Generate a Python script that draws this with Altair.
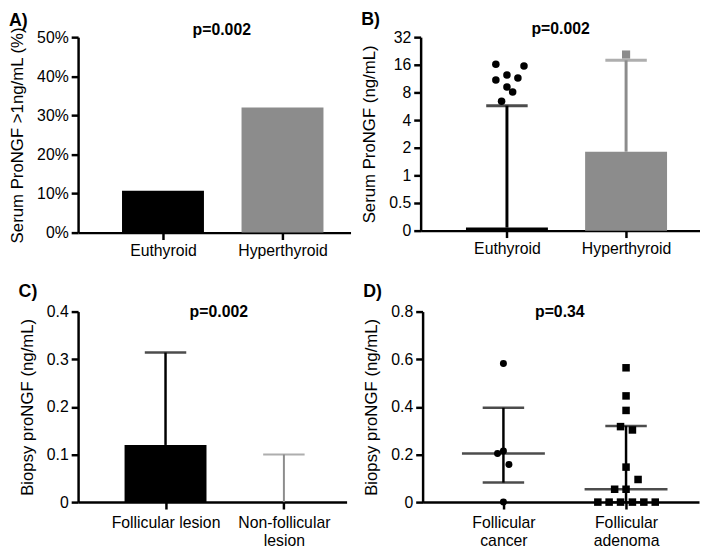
import json
import altair as alt
import pandas as pd

FONT = "Liberation Sans"
BLACK = "#000000"
GRAY = "#8c8c8c"

# ---------------- data ----------------
# Panel A
a_groups = ["Euthyroid", "Hyperthyroid"]
a_pct = [10.7, 32.0]
a_yticks = [0, 10, 20, 30, 40, 50]

# Panel B (log2 axis; bottom tick labelled "0")
b_groups = ["Euthyroid", "Hyperthyroid"]
b_bar = [0.27, 1.81]
b_err = [5.74, 17.9]
b_eu_points = [16.2, 15.5, 10.9, 12.4, 11.5, 9.19, 8.1, 6.4]
b_eu_jitter = [-0.093, 0.143, -0.093, 0.0, 0.092, 0.0, 0.048, -0.045]
b_hy_points = [20.7]
b_yticks = [0.25, 0.5, 1, 2, 4, 8, 16, 32]

# Panel C
c_groups = ["Follicular lesion", "Non-follicular\nlesion"]
c_bar = [0.12, 0.0]
c_err = [0.314, 0.1]
c_yticks = [0, 0.1, 0.2, 0.3, 0.4]

# Panel D
d_groups = ["Follicular\ncancer", "Follicular\nadenoma"]
d_cancer = [0.582, 0.215, 0.204, 0.158, 0.0]
d_cancer_jitter = [0.0, 0.0, -0.048, 0.045, 0.0]
d_adenoma = [0.564, 0.446, 0.385, 0.317, 0.303, 0.147, 0.095, 0.054, 0.054,
             0.0, 0.0, 0.0, 0.0, 0.0, 0.0]
d_adenoma_jitter = [0.0, 0.0, 0.0, -0.045, 0.052, 0.0, 0.098, -0.093, 0.0,
                    -0.23, -0.138, -0.045, 0.052, 0.145, 0.238]
d_center = [0.204, 0.054]
d_low = [0.082, 0.0]
d_high = [0.396, 0.32]
d_yticks = [0, 0.2, 0.4, 0.6, 0.8]

p_values = ["p=0.002", "p=0.002", "p=0.002", "p=0.34"]
panel_letters = ["A)", "B)", "C)", "D)"]


def label_expr(cats):
    lits = []
    for c in cats:
        lines = c.split("\n")
        if len(lines) == 1:
            lits.append(json.dumps(c))
        else:
            lits.append("[" + ",".join(json.dumps(s) for s in lines) + "]")
    return f"datum.value == 1 ? {lits[0]} : {lits[1]}"


def x_enc(cats, domain, pad):
    return alt.X("x:Q",
                 scale=alt.Scale(domain=domain, nice=False, zero=False),
                 axis=alt.Axis(values=[1, 2], labelExpr=label_expr(cats),
                               title=None, labelLineHeight=18, labelPadding=pad))


def color_enc(cats):
    return alt.Color("g:N", scale=alt.Scale(domain=cats, range=[BLACK, GRAY]),
                     legend=None)


def ptext(text, ymax, x_enc_, y_enc_, dy, dx):
    df = pd.DataFrame({"x": [1.5], "v": [ymax], "t": [text]})
    return alt.Chart(df).mark_text(font=FONT, fontSize=16, fontWeight="bold",
                                   baseline="middle", dy=dy, dx=dx,
                                   color=BLACK).encode(
        x=x_enc_, y=y_enc_, text="t:N")


def title(letter, offset):
    return alt.TitleParams(letter, anchor="start", frame="bounds", fontSize=18,
                           fontWeight="bold", font=FONT, color=BLACK, offset=offset)


# ---------------- Panel A ----------------
xA = x_enc(a_groups, [0.331, 2.528], 3)
yA = alt.Y("v:Q", scale=alt.Scale(domain=[0, 50], nice=False),
           axis=alt.Axis(values=a_yticks, labelExpr="datum.value + '%'",
                         title="Serum ProNGF >1ng/mL (%)"))
dfA = pd.DataFrame({"x": [1, 2], "v": a_pct, "g": a_groups})
barsA = alt.Chart(dfA).mark_bar(width=83).encode(x=xA, y=yA, color=color_enc(a_groups))
panelA = alt.layer(barsA, ptext(p_values[0], 50, xA, yA, -7, -1)).properties(
    width=276, height=198, title=title(panel_letters[0], -8))

# ---------------- Panel B ----------------
xB = x_enc(b_groups, [0.317, 2.579], 3)
yB = alt.Y("v:Q", scale=alt.Scale(type="log", base=2, domain=[0.25, 32], nice=False),
           axis=alt.Axis(values=b_yticks,
                         labelExpr="datum.value == 0.25 ? '0' : datum.value",
                         title="Serum ProNGF (ng/mL)"))
dfB = pd.DataFrame({"x": [1, 2], "v": b_bar, "v2": b_err, "g": b_groups})
barsB = alt.Chart(dfB).mark_bar(width=83).encode(
    x=xB, y=yB, y2=alt.datum(b_yticks[0]), color=color_enc(b_groups))
errB = alt.Chart(dfB).mark_rule(strokeWidth=3).encode(
    x=xB, y=yB, y2="v2:Q", color=color_enc(b_groups))
capB = alt.Chart(dfB).mark_tick(orient="horizontal", size=42, thickness=3).encode(
    x=xB, y=alt.Y("v2:Q"), color=color_enc(b_groups))
dfBeu = pd.DataFrame({"x": [1 + j for j in b_eu_jitter], "v": b_eu_points})
ptsBeu = alt.Chart(dfBeu).mark_circle(size=58, opacity=1, color=BLACK).encode(x=xB, y=yB)
dfBhy = pd.DataFrame({"x": [2.0] * len(b_hy_points), "v": b_hy_points})
ptsBhy = alt.Chart(dfBhy).mark_square(size=68, opacity=1, color=GRAY).encode(x=xB, y=yB)
panelB = alt.layer(barsB, errB, capB, ptsBeu, ptsBhy,
                   ptext(p_values[1], 32, xB, yB, -8, -6)).properties(
    width=283, height=196, title=title(panel_letters[1], -8))

# ---------------- Panel C ----------------
xC = x_enc(c_groups, [0.303, 2.488], 6)
yC = alt.Y("v:Q", scale=alt.Scale(domain=[0, 0.4], nice=False),
           axis=alt.Axis(values=c_yticks,
                         labelExpr="datum.value == 0 ? '0' : format(datum.value, '.1f')",
                         title="Biopsy proNGF (ng/mL)"))
dfC = pd.DataFrame({"x": [1, 2], "v": c_bar, "v2": c_err, "g": c_groups})
barsC = alt.Chart(dfC).mark_bar(width=83).encode(x=xC, y=yC, color=color_enc(c_groups))
layersC = [barsC]
for i, (g, col, w) in enumerate(zip(c_groups, [BLACK, GRAY], [2.5, 2.0])):
    sub = alt.Chart(dfC).transform_filter(alt.datum.g == g)
    layersC.append(sub.mark_rule(strokeWidth=w, color=col).encode(x=xC, y=yC, y2="v2:Q"))
    layersC.append(sub.mark_tick(orient="horizontal", size=42, thickness=w, color=col)
                   .encode(x=xC, y=alt.Y("v2:Q")))
layersC.append(ptext(p_values[2], 0.4, xC, yC, 0, -6))
panelC = alt.layer(*layersC).properties(width=272, height=193,
                                        title=title(panel_letters[2], 3))

# ---------------- Panel D ----------------
xD = x_enc(d_groups, [0.341, 2.595], 6)
yD = alt.Y("v:Q", scale=alt.Scale(domain=[0, 0.8], nice=False),
           axis=alt.Axis(values=d_yticks,
                         labelExpr="datum.value == 0 ? '0' : format(datum.value, '.1f')",
                         title="Biopsy proNGF (ng/mL)"))
dfD = pd.DataFrame({"x": [1, 2], "c": d_center, "lo": d_low, "hi": d_high})
errD = alt.Chart(dfD).mark_rule(strokeWidth=2.5, color=BLACK).encode(
    x=xD, y=alt.Y("lo:Q"), y2="hi:Q")
capLoD = alt.Chart(dfD).mark_tick(orient="horizontal", size=42, thickness=2.5,
                                  color=BLACK).encode(x=xD, y=alt.Y("lo:Q"))
capHiD = alt.Chart(dfD).mark_tick(orient="horizontal", size=42, thickness=2.5,
                                  color=BLACK).encode(x=xD, y=alt.Y("hi:Q"))
midD = alt.Chart(dfD).mark_tick(orient="horizontal", size=84, thickness=2.5,
                                color=BLACK).encode(x=xD, y=alt.Y("c:Q"))
dfDc = pd.DataFrame({"x": [1 + j for j in d_cancer_jitter], "v": d_cancer})
ptsDc = alt.Chart(dfDc).mark_circle(size=50, opacity=1, color=BLACK).encode(x=xD, y=yD)
dfDa = pd.DataFrame({"x": [2 + j for j in d_adenoma_jitter], "v": d_adenoma})
ptsDa = alt.Chart(dfDa).mark_square(size=58, opacity=1, color=BLACK).encode(x=xD, y=yD)
panelD = alt.layer(ptsDc, errD, capLoD, capHiD, midD, ptsDa,
                   ptext(p_values[3], 0.8, xD, yD, 0, -5)).properties(
    width=280, height=193, title=title(panel_letters[3], 3))

row1 = alt.hconcat(panelA, panelB, spacing=10)
row2 = alt.hconcat(panelC, panelD, spacing=16)
chart = alt.vconcat(row1, row2, spacing=25).configure_view(stroke=None).configure_axis(
    domainColor=BLACK, domainWidth=2.5, tickColor=BLACK, tickWidth=2.5, tickSize=7,
    labelFont=FONT, labelFontSize=16, labelColor=BLACK, labelPadding=3,
    titleFont=FONT, titleFontSize=17, titleFontWeight="normal", titleColor=BLACK,
    titlePadding=10, grid=False
).properties(padding=0)

chart.save("out.html", embed_options={"renderer": "svg", "actions": False})
